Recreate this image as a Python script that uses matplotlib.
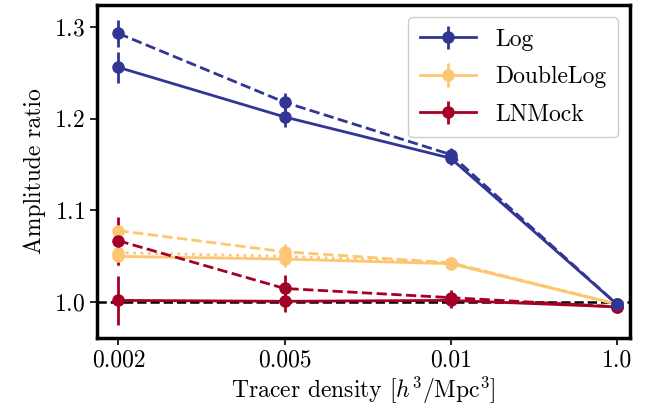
import numpy as np
import matplotlib
matplotlib.use("Agg")
import matplotlib.pyplot as plt

plt.rcParams['font.family'] = 'serif'
plt.rcParams['font.serif'] = ['cmr10', 'DejaVu Serif']
plt.rcParams['mathtext.fontset'] = 'cm'
plt.rcParams['axes.formatter.use_mathtext'] = True
plt.rcParams['axes.unicode_minus'] = False

# tracer densities (categorical x axis)
densities = ['0.002', '0.005', '0.01', '1.0']

# Log model
log_solid = [1.256, 1.202, 1.157, 0.998]
log_solid_err = [0.017, 0.011, 0.007, 0.002]
log_dash = [1.293, 1.218, 1.161, 0.998]
log_dash_err = [0.015, 0.010, 0.007, 0.002]

# DoubleLog model
dlog_solid = [1.050, 1.047, 1.042, 0.998]
dlog_solid_err = [0.010, 0.009, 0.006, 0.002]
dlog_dash = [1.078, 1.055, 1.043, 0.998]
dlog_dash_err = [0.010, 0.009, 0.006, 0.002]
dlog_dot = [1.054, 1.050, 1.043, 0.998]
dlog_dot_err = [0.010, 0.009, 0.006, 0.002]

# LNMock
ln_solid = [1.002, 1.001, 1.002, 0.995]
ln_solid_err = [0.027, 0.012, 0.008, 0.002]
ln_dash = [1.067, 1.015, 1.005, 0.995]
ln_dash_err = [0.026, 0.015, 0.008, 0.002]

c_log = '#313695'
c_dlog = '#fdc672'
c_ln = '#a50026'

fig = plt.figure(figsize=(6.59, 4.16), dpi=100)
ax = fig.add_axes([0.147, 0.1875, 0.809, 0.8005])
x = np.arange(len(densities))

kw = dict(marker='o', markersize=8, linewidth=2.0, elinewidth=2.0, capsize=0)

ax.axhline(1.0, color='black', linestyle='--', linewidth=1.8, zorder=1)

ax.errorbar(x, dlog_dot, yerr=dlog_dot_err, color=c_dlog, linestyle=':', **kw)
ax.errorbar(x, dlog_dash, yerr=dlog_dash_err, color=c_dlog, linestyle='--', **kw)
ax.errorbar(x, dlog_solid, yerr=dlog_solid_err, color=c_dlog, linestyle='-', **kw)

ax.errorbar(x, ln_dash, yerr=ln_dash_err, color=c_ln, linestyle='--', **kw)
ax.errorbar(x, ln_solid, yerr=ln_solid_err, color=c_ln, linestyle='-', **kw)

ax.errorbar(x, log_dash, yerr=log_dash_err, color=c_log, linestyle='--', **kw)
ax.errorbar(x, log_solid, yerr=log_solid_err, color=c_log, linestyle='-', **kw)

# legend handles
h_log = ax.errorbar([], [], yerr=[], color=c_log, **kw)
h_dlog = ax.errorbar([], [], yerr=[], color=c_dlog, **kw)
h_ln = ax.errorbar([], [], yerr=[], color=c_ln, **kw)
ax.legend([h_log, h_dlog, h_ln], ['Log', 'DoubleLog', 'LNMock'],
          loc='upper right', fontsize=17, handlelength=2.4, framealpha=1,
          borderaxespad=0.5, labelspacing=0.65, borderpad=0.5)

ax.set_xticks(x)
ax.set_xticklabels(densities)
ax.set_yticks([1.0, 1.1, 1.2, 1.3])
ax.set_xlim(-0.13, 3.08)
ax.set_ylim(0.961, 1.324)
ax.tick_params(labelsize=17, width=1.2, length=5)
for s in ax.spines.values():
    s.set_linewidth(2.5)

ax.set_xlabel(r'Tracer density $[h^3/\mathrm{Mpc}^3]$', fontsize=17, labelpad=2)
ax.set_ylabel('Amplitude ratio', fontsize=17, labelpad=6)

fig.savefig('out.png', dpi=100)
